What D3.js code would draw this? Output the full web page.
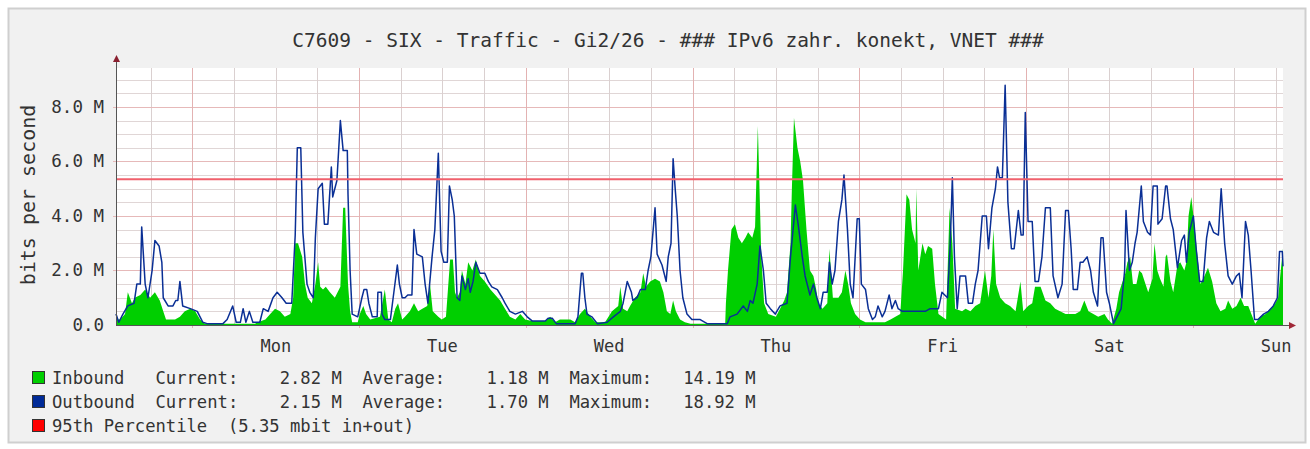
<!DOCTYPE html>
<html lang="en">
<head>
    <meta charset="utf-8">
    <title>C7609 - SIX - Traffic - Gi2/26</title>
    <script src="https://d3js.org/d3.v7.min.js"></script>
    <style>
    html, body {
        margin: 0;
        padding: 0;
        background: #fff;
    }
    svg text {
        font-family: "DejaVu Sans Mono", monospace;
        fill: #333;
    }
    </style>
</head>
<body>
<script>

// ---- data (hours since Sun 13:00, values in Mbit/s) ----
var titleText = "C7609 - SIX - Traffic - Gi2/26 - ### IPv6 zahr. konekt, VNET ###";
var dayNames = ["Mon", "Tue", "Wed", "Thu", "Fri", "Sat", "Sun"];
var yTicks = [0, 2, 4, 6, 8];
var percentile95 = 5.35;

var inHours = [0.0,0.6,1.3,1.7,2.3,2.7,3.5,4.2,4.9,5.6,6.3,6.8,7.2,8.5,9.2,9.9,10.7,11.4,12.1,12.8,
    20.0,20.4,21.5,22.2,22.9,23.6,24.3,25.1,25.5,25.8,26.2,26.8,27.2,27.6,28.2,28.7,29.1,29.4,29.8,30.2,
    30.8,31.5,32.3,32.7,33.0,33.4,33.7,34.0,34.8,35.1,35.6,36.0,36.6,38.0,38.7,39.2,39.7,40.2,40.6,41.2,
    41.6,42.3,42.9,43.5,44.1,44.8,45.2,45.6,46.4,46.9,47.5,48.1,48.5,48.8,49.1,49.5,49.8,50.3,50.7,51.3,
    51.8,52.4,53.1,53.9,54.6,55.3,56.0,56.7,57.5,58.2,58.9,59.9,61.8,62.5,63.2,63.9,65.4,66.1,66.8,67.5,
    68.3,69.0,70.4,71.4,72.3,72.6,73.0,73.6,74.0,74.7,75.5,75.9,76.3,76.9,77.6,78.3,78.8,79.3,79.8,80.2,
    80.6,81.2,81.9,82.7,87.7,87.8,88.1,88.6,89.1,89.6,90.1,90.6,91.0,91.6,92.0,92.4,92.9,93.3,93.9,95.0,
    95.6,96.2,96.6,97.1,97.3,97.6,98.1,98.5,98.9,99.4,99.9,100.4,100.8,101.1,101.7,102.4,102.7,103.2,104.0,104.5,
    105.0,105.4,105.8,106.4,107.1,107.9,110.7,111.5,112.2,112.9,113.3,113.8,114.2,114.6,115.1,115.2,115.5,116.1,116.5,116.9,
    117.5,117.9,118.4,119.5,120.0,120.4,120.8,121.8,122.3,123.0,123.7,124.4,125.1,125.6,126.0,126.3,126.7,127.3,128.0,128.7,
    129.5,130.2,130.6,131.3,131.9,132.3,133.1,133.8,134.5,135.2,135.9,136.7,138.1,138.8,139.4,140.0,140.7,141.4,142.3,142.8,
    143.4,144.0,144.4,144.9,145.3,145.6,146.0,146.4,146.9,147.3,147.7,148.2,148.6,149.2,149.5,149.9,150.3,150.8,151.1,151.3,
    151.8,152.2,152.8,153.2,153.8,154.1,154.4,154.8,155.2,155.7,156.1,156.7,157.2,157.8,158.4,159.0,159.7,160.1,160.7,161.3,
    161.9,162.4,163.0,163.6,164.0,164.7,165.5,166.2,166.9,167.3,167.6,168.0];
var inMbps = [0.2,0.2,0.4,1.2,0.8,1.0,1.1,1.3,1.0,1.2,0.9,0.5,0.2,0.2,0.3,0.5,0.6,0.5,0.2,0.05,
    0.05,0.1,0.2,0.4,0.6,0.5,0.3,0.4,1.0,3.0,3.0,2.5,1.5,1.0,0.8,1.5,2.3,1.4,1.3,1.4,
    1.2,1.0,1.4,4.3,4.3,1.5,0.5,0.1,0.1,0.4,0.7,0.4,0.2,0.3,1.3,0.2,0.1,0.6,0.8,0.2,
    0.3,0.5,0.8,0.5,0.6,0.7,1.5,0.5,0.3,0.2,0.3,2.4,2.4,1.2,1.0,1.2,2.0,1.5,2.3,2.0,
    2.4,1.8,1.6,1.3,1.1,0.9,0.6,0.3,0.2,0.4,0.2,0.15,0.15,0.3,0.1,0.2,0.2,0.1,0.4,0.6,
    0.3,0.1,0.1,0.5,0.7,1.4,0.6,0.5,0.7,1.0,1.2,1.9,1.4,1.6,1.7,1.6,1.2,0.5,0.4,0.9,
    0.5,0.2,0.1,0.05,0.05,0.8,2.0,3.5,3.7,3.2,3.0,3.2,3.4,3.2,3.6,7.3,2.5,0.8,0.4,0.3,
    0.6,0.9,1.2,3.0,5.0,7.6,6.5,6.0,5.3,3.5,2.0,1.8,1.3,0.8,0.6,0.8,2.8,1.0,1.0,1.2,
    2.0,1.5,0.8,0.4,0.2,0.1,0.1,0.2,0.3,0.4,2.0,4.8,4.6,3.5,3.0,5.0,2.0,3.0,2.6,2.9,
    2.8,1.5,0.4,0.2,4.3,3.0,0.6,0.5,0.6,0.5,0.7,0.8,2.0,1.0,1.8,3.5,1.5,1.0,0.8,0.7,
    0.5,1.6,0.5,0.7,0.8,1.4,1.4,0.9,0.8,0.6,0.5,0.4,0.4,0.5,0.9,0.5,0.4,0.3,0.4,0.2,
    0.05,0.6,1.2,1.6,1.9,2.3,2.5,1.5,1.5,2.0,1.9,1.5,1.2,1.7,3.0,2.0,1.7,1.4,2.5,2.6,
    1.6,1.2,2.2,2.3,2.0,2.3,4.0,4.7,3.8,2.5,1.5,1.8,2.1,1.6,0.8,0.5,0.6,0.9,0.6,0.7,
    1.0,0.7,0.7,0.3,0.05,0.3,0.4,0.6,0.8,1.0,1.8,2.82];

var outHours = [0.0,0.4,1.0,1.7,2.6,3.0,3.5,3.7,4.2,4.6,5.2,5.6,6.2,6.6,6.8,7.5,8.2,8.6,8.9,9.2,
    9.6,10.7,11.7,12.1,12.5,13.1,15.4,16.0,16.8,17.3,17.9,18.3,18.7,19.2,19.7,20.7,21.2,21.9,22.6,23.2,
    23.9,24.5,25.3,25.8,26.1,26.6,26.9,27.5,27.9,28.4,28.7,29.1,29.7,30.0,30.5,31.0,31.2,31.8,32.3,32.7,
    33.3,33.4,33.7,34.0,34.8,35.4,35.7,36.1,36.4,36.9,37.6,37.7,38.2,38.3,38.7,39.5,39.9,40.5,40.8,41.2,
    41.6,42.0,42.6,42.9,43.3,44.1,44.5,44.9,45.5,45.9,46.4,46.8,47.2,47.7,48.0,48.4,48.7,49.1,49.5,49.8,
    50.3,50.7,51.0,51.4,51.8,52.4,53.1,53.6,54.1,54.9,55.6,56.0,56.7,57.5,58.5,59.2,59.9,61.8,62.2,62.8,
    63.4,66.1,66.5,67.0,67.2,67.5,67.8,68.5,69.3,70.7,71.6,72.6,73.0,73.6,74.2,74.4,75.0,75.5,76.2,76.6,
    77.0,77.6,77.9,78.6,79.2,79.5,79.9,80.2,80.5,80.8,81.2,81.6,82.2,82.9,84.1,85.1,88.0,88.4,89.4,90.3,
    90.9,91.3,91.7,92.3,92.7,93.2,93.6,94.2,94.9,95.6,96.6,97.1,97.8,98.2,98.8,99.2,99.5,99.9,100.4,100.9,
    101.4,101.8,102.4,102.7,103.1,103.5,104.0,104.5,104.8,105.3,105.7,106.1,106.7,107.0,107.3,107.9,108.3,108.9,109.3,109.7,
    110.3,110.7,111.3,111.7,112.2,112.6,113.2,116.5,117.2,118.4,118.9,119.7,120.1,120.4,120.7,121.1,121.5,122.3,122.7,123.3,
    123.7,124.1,124.7,125.3,125.6,126.1,126.6,126.9,127.2,127.6,128.0,128.4,128.9,129.3,129.9,130.3,130.6,130.9,131.3,131.9,
    132.3,132.8,133.3,133.8,134.5,134.9,135.6,136.2,136.7,137.1,137.5,137.8,138.4,138.8,139.2,139.8,140.3,140.7,141.3,141.8,
    142.1,142.6,143.0,143.6,144.1,144.7,145.2,145.4,145.9,146.3,146.7,147.0,147.6,147.9,148.5,148.9,149.3,149.9,150.0,150.6,
    151.1,151.3,151.8,152.2,152.8,153.4,153.8,154.1,154.5,155.1,155.5,156.0,156.5,157.0,157.4,158.0,158.7,159.1,159.6,160.1,
    160.7,161.3,161.7,162.1,162.6,163.0,163.4,163.9,164.4,165.2,165.9,166.6,167.2,167.5,167.9,168.0];
var outMbps = [0.4,0.1,0.4,0.7,0.8,1.5,1.5,3.6,1.5,1.0,2.0,3.1,2.9,2.3,1.0,0.7,0.7,0.9,0.9,1.6,
    0.7,0.6,0.5,0.3,0.1,0.05,0.05,0.2,0.7,0.1,0.1,0.6,0.1,0.5,0.1,0.1,0.6,0.5,1.0,1.2,
    1.0,0.8,0.8,3.3,6.5,6.5,3.4,1.5,1.2,1.0,3.2,5.0,5.2,3.7,3.7,5.8,4.7,5.3,7.5,6.4,
    6.4,4.8,2.0,0.4,0.3,1.0,1.3,1.3,0.8,0.3,0.3,1.2,1.2,0.4,0.2,0.2,1.0,2.2,1.5,1.0,
    1.0,1.1,1.1,3.5,2.6,2.5,1.5,0.8,2.5,3.5,6.3,2.7,2.3,2.3,5.1,4.6,4.0,1.0,0.9,1.8,
    1.3,1.7,1.2,1.6,2.3,1.9,1.9,1.6,1.4,1.3,1.0,0.8,0.5,0.4,0.5,0.3,0.15,0.15,0.25,0.25,
    0.05,0.05,0.3,1.9,1.9,1.0,0.4,0.3,0.05,0.1,0.3,0.5,0.8,1.6,1.2,0.9,1.0,1.3,1.3,2.0,
    2.5,4.3,2.6,2.2,1.6,2.5,3.0,6.1,5.0,4.0,2.0,1.0,0.4,0.2,0.2,0.05,0.05,0.3,0.4,0.7,
    0.5,0.9,0.8,1.5,2.9,2.0,0.8,0.6,0.4,0.7,0.8,2.5,4.4,3.7,2.5,1.8,1.5,1.1,1.5,1.0,
    0.6,1.2,1.2,2.3,1.5,2.0,3.8,4.6,5.5,3.5,1.5,1.0,3.9,3.9,1.5,1.3,0.6,0.2,0.3,0.7,
    0.3,0.5,1.1,0.6,0.9,0.6,0.5,0.5,0.6,0.6,1.2,1.0,3.0,5.4,2.5,0.6,1.8,1.8,0.8,0.8,
    1.5,2.0,4.0,4.0,2.8,4.3,5.0,5.8,5.4,5.4,8.8,4.5,2.8,2.8,4.2,3.3,3.3,7.8,3.8,3.8,
    1.6,1.6,2.5,4.3,4.3,1.8,1.0,1.5,4.2,4.2,2.8,1.3,1.3,2.3,2.3,2.5,2.0,1.2,0.7,3.2,
    3.2,1.2,0.8,0.05,0.3,0.6,2.0,4.2,2.0,2.3,3.0,3.4,5.1,3.8,3.4,3.3,5.1,5.1,3.7,3.9,
    5.1,5.1,3.9,3.5,2.1,3.1,3.3,2.3,3.4,4.0,2.8,1.6,1.6,3.2,3.8,3.4,3.3,5.0,3.0,1.8,
    1.5,1.8,1.9,1.0,3.8,3.3,2.0,0.2,0.2,0.4,0.5,0.7,1.0,2.7,2.7,2.15];

var legendNames = ["Inbound", "Outbound"];
var legendColors = ["#00cf00", "#002a97"];
var currentVals = ["2.82 M", "2.15 M"];
var averageVals = ["1.18 M", "1.70 M"];
var maximumVals = ["14.19 M", "18.92 M"];
var percentileText = "95th Percentile  (5.35 mbit in+out)";

// ---- layout ----
var width = 1310, height = 449;
var plotLeft = 116, plotRight = 1283, plotTop = 68, plotBottom = 325;

var startTime = new Date(2023, 0, 1, 13, 0);   // a Sunday, 13:00
var endTime = d3.timeHour.offset(startTime, 168);

var x = d3.scaleTime().domain([startTime, endTime]).range([plotLeft, plotRight]);
var y = d3.scaleLinear().domain([0, 9.43]).range([plotBottom, plotTop]);

function toDate(h) { return d3.timeMinute.offset(startTime, Math.round(h * 60)); }

var inData = inHours.map(function(h, i) { return {t: toDate(h), v: inMbps[i]}; });
var outData = outHours.map(function(h, i) { return {t: toDate(h), v: outMbps[i]}; });

var svg = d3.select("body").append("svg")
    .attr("width", width)
    .attr("height", height);

// frame
svg.append("rect").attr("x", 0).attr("y", 0).attr("width", width).attr("height", height).attr("fill", "#fff");
svg.append("rect")
    .attr("x", 8.5).attr("y", 8.5).attr("width", 1297).attr("height", 434)
    .attr("fill", "#f1f1f1").attr("stroke", "#cfcfcf").attr("stroke-width", 2);

// canvas
svg.append("rect")
    .attr("x", plotLeft).attr("y", plotTop)
    .attr("width", plotRight - plotLeft).attr("height", plotBottom - plotTop)
    .attr("fill", "#fff");

// grid
var grid = svg.append("g");
var minorY = d3.range(0.5, 9.43, 0.5).filter(function(v) { return v % 2 !== 0; });
grid.selectAll(".hminor").data(minorY).enter().append("line")
    .attr("x1", plotLeft).attr("x2", plotRight)
    .attr("y1", function(d) { return Math.round(y(d)) + 0.5; })
    .attr("y2", function(d) { return Math.round(y(d)) + 0.5; })
    .attr("stroke", "#e0d6d6").attr("stroke-width", 1);

var sixHours = d3.timeHour.every(6).range(startTime, endTime).filter(function(d) { return d.getHours() !== 0; });
grid.selectAll(".vminor").data(sixHours).enter().append("line")
    .attr("y1", plotTop).attr("y2", plotBottom)
    .attr("x1", function(d) { return Math.round(x(d)) + 0.5; })
    .attr("x2", function(d) { return Math.round(x(d)) + 0.5; })
    .attr("stroke", "#dad0d0").attr("stroke-width", 1);

grid.selectAll(".hmajor").data(yTicks.slice(1)).enter().append("line")
    .attr("x1", plotLeft - 3).attr("x2", plotRight)
    .attr("y1", function(d) { return Math.round(y(d)) + 0.5; })
    .attr("y2", function(d) { return Math.round(y(d)) + 0.5; })
    .attr("stroke", "#e6b9b9").attr("stroke-width", 1);

var midnights = d3.timeDay.range(startTime, endTime);
grid.selectAll(".vmajor").data(midnights).enter().append("line")
    .attr("y1", plotTop).attr("y2", plotBottom + 3)
    .attr("x1", function(d) { return Math.round(x(d)) + 0.5; })
    .attr("x2", function(d) { return Math.round(x(d)) + 0.5; })
    .attr("stroke", "#e3b2b2").attr("stroke-width", 1);

// inbound area
svg.append("path")
    .datum(inData)
    .attr("fill", "#00cf00")
    .attr("d", d3.area()
        .x(function(d) { return x(d.t); })
        .y0(y(0))
        .y1(function(d) { return y(d.v); }));

// outbound line
svg.append("path")
    .datum(outData)
    .attr("fill", "none")
    .attr("stroke", "#0a2f95")
    .attr("stroke-width", 1.5)
    .attr("stroke-linejoin", "round")
    .attr("d", d3.line()
        .x(function(d) { return x(d.t); })
        .y(function(d) { return y(d.v); }));

// 95th percentile
svg.append("line")
    .attr("x1", plotLeft).attr("x2", plotRight)
    .attr("y1", y(percentile95)).attr("y2", y(percentile95))
    .attr("stroke", "#f0606c").attr("stroke-width", 2);

// axes
svg.append("line")
    .attr("x1", plotLeft + 0.5).attr("x2", plotLeft + 0.5)
    .attr("y1", plotBottom).attr("y2", plotTop - 6)
    .attr("stroke", "#555");
svg.append("path")
    .attr("d", "M" + (plotLeft + 0.5) + "," + (plotTop - 13) + " l-3.5,7 l7,0 z")
    .attr("fill", "#8a2030");
svg.append("line")
    .attr("x1", plotLeft).attr("x2", plotRight + 6)
    .attr("y1", plotBottom + 0.5).attr("y2", plotBottom + 0.5)
    .attr("stroke", "#555");
svg.append("path")
    .attr("d", "M" + (plotRight + 13) + "," + (plotBottom + 0.5) + " l-7,-3.5 l0,7 z")
    .attr("fill", "#a02838");

// y tick labels
svg.selectAll(".ylab").data(yTicks).enter().append("text")
    .attr("x", 104)
    .attr("y", function(d) { return y(d) + 6; })
    .attr("text-anchor", "end")
    .style("font-size", "17.5px")
    .text(function(d) { return d === 0 ? "0.0" : d3.format(".1f")(d) + " M"; });

// x labels at noon
svg.selectAll(".xlab").data(midnights).enter().append("text")
    .attr("x", function(d) { return x(d3.timeHour.offset(d, 12)); })
    .attr("y", 352)
    .attr("text-anchor", "middle")
    .style("font-size", "17px")
    .text(function(d, i) { return dayNames[i]; });

// y axis title
svg.append("text")
    .attr("transform", "translate(35,195) rotate(-90)")
    .attr("text-anchor", "middle")
    .style("font-size", "20px")
    .text("bits per second");

// title
svg.append("text")
    .attr("x", 668).attr("y", 47)
    .attr("text-anchor", "middle")
    .style("font-size", "19.5px")
    .text(titleText);

// legend
function pad(s, n) { while (s.length < n) s = " " + s; return s; }
function padR(s, n) { while (s.length < n) s = s + " "; return s; }
var rows = legendNames.map(function(n, i) {
    return {color: legendColors[i],
        text: padR(n, 10) + "Current:" + pad(currentVals[i], 10) + "  Average:" + pad(averageVals[i], 10) +
              "  Maximum:" + pad(maximumVals[i], 10)};
});
rows.push({color: "#ff0000", text: percentileText});

var legend = svg.selectAll(".leg").data(rows).enter().append("g")
    .attr("transform", function(d, i) { return "translate(0," + (378 + i * 24) + ")"; });
legend.append("rect")
    .attr("x", 32.5).attr("y", -6.5).attr("width", 12).attr("height", 12)
    .attr("fill", function(d) { return d.color; })
    .attr("stroke", "#333").attr("stroke-width", 1);
legend.append("text")
    .attr("x", 52).attr("y", 6)
    .attr("xml:space", "preserve")
    .style("white-space", "pre")
    .style("font-size", "17.2px")
    .text(function(d) { return d.text; });

</script>
</body>
</html>
